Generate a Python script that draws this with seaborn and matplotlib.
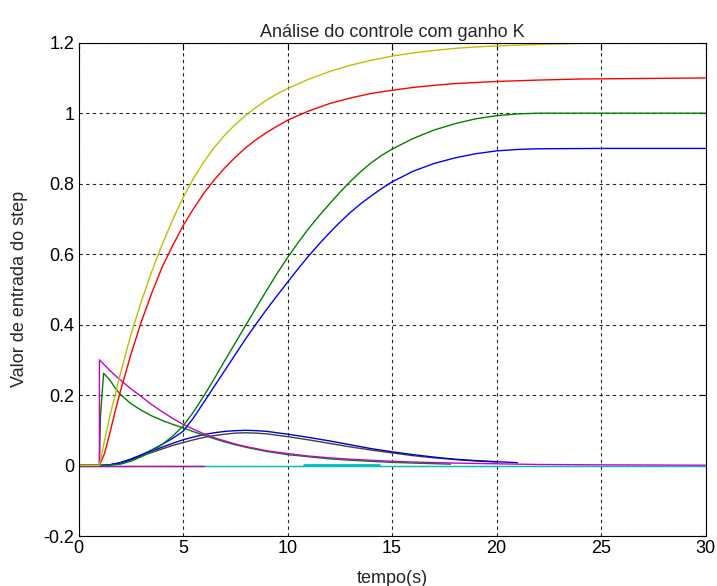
import matplotlib
matplotlib.use("Agg")
import matplotlib.pyplot as plt
import seaborn as sns
import pandas as pd

# ---------------- data ----------------
t_yellow = [0, 1, 1.25, 1.5, 1.75, 2, 2.5, 3, 3.5, 4, 4.5, 5, 5.5, 6, 6.5, 7, 7.5, 8, 8.5, 9, 9.5,
            10, 11, 12, 13, 14, 15, 16, 17, 18, 19, 20, 22, 24, 26, 30]
v_yellow = [0, 0, 0.072, 0.14, 0.2, 0.26, 0.37, 0.465, 0.55, 0.627, 0.697, 0.76, 0.815, 0.862, 0.903,
            0.938, 0.968, 0.994, 1.017, 1.037, 1.055, 1.07, 1.096, 1.118, 1.136, 1.15, 1.162, 1.171,
            1.178, 1.184, 1.188, 1.191, 1.195, 1.198, 1.199, 1.2]

t_red = [0, 1, 1.25, 1.5, 1.75, 2, 2.5, 3, 3.5, 4, 4.5, 5, 5.5, 6, 6.5, 7, 7.5, 8, 8.5, 9, 9.5,
         10, 11, 12, 13, 14, 15, 16, 17, 18, 19, 20, 22, 24, 26, 30]
v_red = [0, 0, 0.035, 0.092, 0.153, 0.21, 0.314, 0.407, 0.489, 0.563, 0.624, 0.68, 0.729, 0.773,
         0.811, 0.845, 0.875, 0.902, 0.925, 0.945, 0.963, 0.98, 1.006, 1.027, 1.043, 1.056, 1.065,
         1.073, 1.079, 1.084, 1.087, 1.09, 1.094, 1.097, 1.098, 1.1]

t_green_s = [0, 1, 1.5, 2, 2.5, 3, 3.5, 4, 4.5, 5, 5.5, 6, 6.5, 7, 7.5, 8, 8.5, 9, 9.5, 10, 10.5,
             11, 11.5, 12, 12.5, 13, 13.5, 14, 14.5, 15, 16, 17, 18, 19, 20, 21, 22, 30]
v_green_s = [0, 0, 0.001, 0.004, 0.012, 0.025, 0.04, 0.06, 0.083, 0.112, 0.152, 0.198, 0.247, 0.298,
             0.348, 0.398, 0.448, 0.497, 0.545, 0.59, 0.632, 0.672, 0.708, 0.742, 0.775, 0.806,
             0.834, 0.859, 0.88, 0.898, 0.928, 0.952, 0.97, 0.984, 0.993, 0.998, 1.0, 1.0]

t_blue_s = [0, 1, 1.5, 2, 2.5, 3, 3.5, 4, 4.5, 5, 5.5, 6, 6.5, 7, 7.5, 8, 8.5, 9, 9.5, 10, 10.5,
            11, 11.5, 12, 12.5, 13, 13.5, 14, 14.5, 15, 16, 17, 18, 19, 20, 21, 22, 25, 30]
v_blue_s = [0, 0, 0.002, 0.008, 0.018, 0.03, 0.044, 0.06, 0.077, 0.097, 0.135, 0.18, 0.225, 0.27,
            0.315, 0.36, 0.402, 0.443, 0.482, 0.52, 0.558, 0.594, 0.628, 0.66, 0.69, 0.718, 0.743,
            0.765, 0.786, 0.805, 0.835, 0.857, 0.873, 0.885, 0.893, 0.897, 0.899, 0.9, 0.9]

t_mag = [0, 1, 1.001, 1.25, 1.5, 1.75, 2, 2.5, 3, 3.5, 4, 4.5, 5, 5.5, 6, 6.5, 7, 7.5, 8, 9, 10,
         11, 12, 13, 14, 15, 16, 18, 20, 22, 25, 30]
v_mag = [0, 0, 0.3, 0.285, 0.27, 0.256, 0.243, 0.218, 0.196, 0.173, 0.153, 0.134, 0.117, 0.103,
         0.09, 0.079, 0.07, 0.061, 0.054, 0.042, 0.034, 0.027, 0.022, 0.018, 0.015, 0.012, 0.01,
         0.007, 0.005, 0.003, 0.002, 0.001]

t_gdec = [0, 1, 1.05, 1.2, 1.5, 1.75, 2, 2.5, 3, 3.5, 4, 4.5, 5, 5.5, 6, 6.5, 7, 7.5, 8, 9, 10,
          11, 12, 13, 14, 15, 16, 17.8]
v_gdec = [0, 0, 0.14, 0.262, 0.243, 0.22, 0.202, 0.176, 0.157, 0.141, 0.128, 0.117, 0.107, 0.096,
          0.086, 0.076, 0.067, 0.059, 0.052, 0.04, 0.031, 0.025, 0.019, 0.015, 0.012, 0.009, 0.007,
          0.004]

t_hump = [0, 1, 1.5, 2, 2.5, 3, 3.5, 4, 4.5, 5, 5.5, 6, 6.5, 7, 7.5, 8, 8.5, 9, 9.5, 10, 11, 12,
          13, 14, 15, 16, 17, 18, 19, 20]
v_blue_h = [0, 0, 0.002, 0.008, 0.018, 0.03, 0.041, 0.052, 0.063, 0.073, 0.081, 0.088, 0.093,
            0.097, 0.099, 0.1, 0.099, 0.097, 0.093, 0.089, 0.08, 0.07, 0.059, 0.048, 0.039, 0.031,
            0.024, 0.018, 0.014, 0.011]
v_gray_h = [0, 0, 0.002, 0.007, 0.016, 0.027, 0.037, 0.047, 0.057, 0.065, 0.073, 0.08, 0.085,
            0.089, 0.092, 0.093, 0.092, 0.09, 0.086, 0.082, 0.073, 0.063, 0.053, 0.044, 0.036,
            0.028, 0.022, 0.017, 0.013, 0.01]
t_blue_tail = [20, 21]
v_blue_tail = [0.011, 0.008]

t_cyan = [0, 30]
v_cyan = [0, 0]
t_cyan2 = [10.8, 14.4]
v_cyan2 = [0.002, 0.002]
t_magflat = [0, 6]
v_magflat = [0, 0]

x_ticks = [0, 5, 10, 15, 20, 25, 30]
y_ticks = [-0.2, 0, 0.2, 0.4, 0.6, 0.8, 1.0, 1.2]
y_ticklabels = ["-0.2", "0", "0.2", "0.4", "0.6", "0.8", "1", "1.2"]

title = "Análise do controle com ganho K"
xlabel = "tempo(s)"
ylabel = "Valor de entrada do step"

# ---------------- style ----------------
sns.set_style("white")
plt.rcParams["font.family"] = ["Liberation Sans", "DejaVu Sans"]

fig = plt.figure(figsize=(7.17, 5.86), dpi=100)
ax = fig.add_axes([0.1095, 0.0853, 0.8745, 0.8418])

series = [
    (t_cyan, v_cyan, "#00BFBF", 1.0),
    (t_cyan2, v_cyan2, "#00BFBF", 2.0),
    (t_magflat, v_magflat, "#BF00BF", 1.0),
    (t_hump, v_gray_h, "#404040", 1.0),
    (t_hump, v_blue_h, "#0000CC", 1.0),
    (t_blue_tail, v_blue_tail, "#0000CC", 1.0),
    (t_gdec, v_gdec, "#008000", 1.0),
    (t_mag, v_mag, "#CC00CC", 1.0),
    (t_blue_s, v_blue_s, "#0000FF", 1.0),
    (t_green_s, v_green_s, "#008000", 1.0),
    (t_red, v_red, "#FF0000", 1.0),
    (t_yellow, v_yellow, "#BFBF00", 1.0),
]
for tt, vv, col, lw in series:
    df = pd.DataFrame({"t": tt, "v": vv})
    sns.lineplot(data=df, x="t", y="v", ax=ax, color=col, linewidth=lw, sort=False,
                 estimator=None)

ax.set_xlim(0, 30)
ax.set_ylim(-0.2, 1.2)
ax.set_xticks(x_ticks)
ax.set_xticklabels([str(x) for x in x_ticks])
ax.set_yticks(y_ticks)
ax.set_yticklabels(y_ticklabels)

ax.grid(True, color="black", linestyle=(0, (3, 3)), linewidth=0.8, alpha=0.85)
ax.set_axisbelow(True)
for s in ax.spines.values():
    s.set_color("black")
    s.set_linewidth(0.8)
ax.tick_params(direction="in", length=5, width=0.8, top=True, right=True,
               labelsize=13, colors="black", pad=3)

ax.set_title(title, fontsize=13, pad=4)
ax.set_xlabel(xlabel, fontsize=13, labelpad=9)
ax.set_ylabel(ylabel, fontsize=13, labelpad=11)

fig.savefig("out.png", dpi=100)
